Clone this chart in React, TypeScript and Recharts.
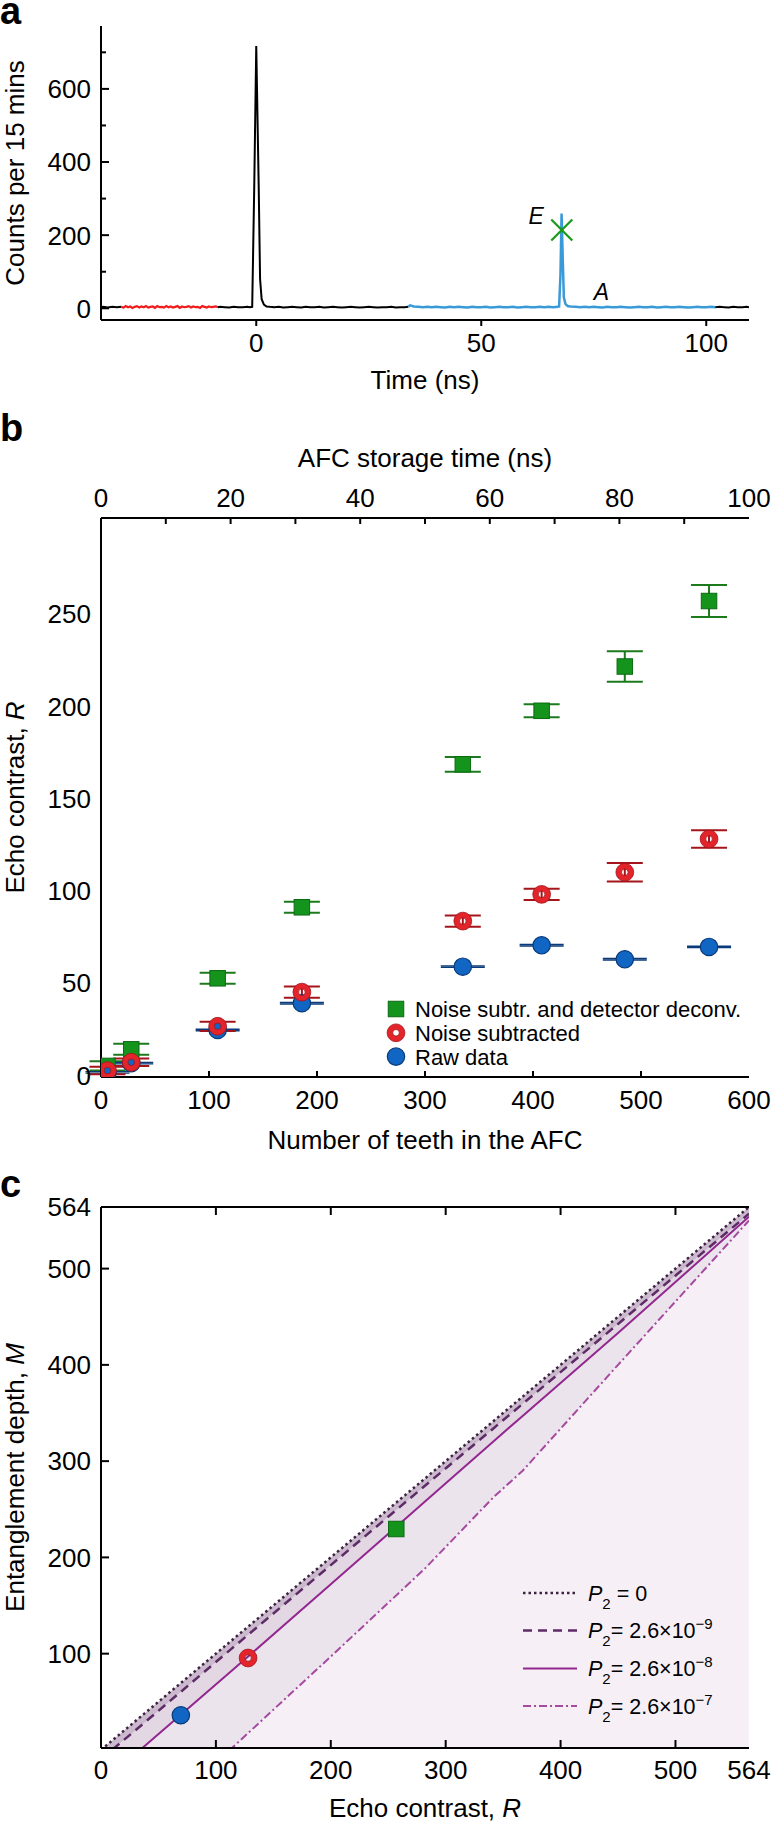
import React from 'react';
import {
  ComposedChart,
  ScatterChart,
  Line,
  Area,
  Scatter,
  ErrorBar,
  XAxis,
  YAxis,
  Label,
  Legend,
  ReferenceDot,
} from 'recharts';

const FONT = '"Liberation Sans", Arial, Helvetica, sans-serif';

// ---------- panel a: detection-time histogram, [time (ns), counts] ----------
const traceStartBlack = [[-34.5, 3], [-34, 4], [-33, 2], [-32, 4], [-31, 3], [-30, 4]];
const traceNoiseRed = [
  [-30, 4], [-29.5, 2], [-29, 6], [-28.5, 3], [-28, 5], [-27.5, 1], [-27, 4], [-26.5, 6],
  [-26, 2], [-25.5, 5], [-25, 3], [-24.5, 6], [-24, 2], [-23.5, 4], [-23, 5], [-22.5, 1],
  [-22, 6], [-21.5, 3], [-21, 4], [-20.5, 2], [-20, 6], [-19.5, 3], [-19, 5], [-18.5, 2],
  [-18, 4], [-17.5, 6], [-17, 1], [-16.5, 5], [-16, 3], [-15.5, 4], [-15, 6], [-14.5, 2],
  [-14, 5], [-13.5, 3], [-13, 4], [-12.5, 1], [-12, 6], [-11.5, 4], [-11, 2], [-10.5, 5],
  [-10, 3], [-9.5, 4], [-9, 5], [-8.5, 3],
];
const tracePumpBlack = [
  [-8.5, 3], [-8, 4], [-7, 3], [-6, 2], [-5, 4], [-4, 3], [-3, 3], [-2, 4], [-1.5, 3],
  [-0.9, 4], [-0.45, 330], [0, 717], [0.55, 330], [0.85, 80], [1.2, 25], [1.7, 10], [2.3, 5],
  [3, 4], [4, 3], [5, 4], [6, 2], [7, 3], [8, 4], [9, 3], [10, 2], [11, 4], [12, 3], [13, 3],
  [14, 4], [15, 2], [16, 3], [17, 4], [18, 3], [19, 2], [20, 3], [21, 4], [22, 3], [23, 2],
  [24, 3], [25, 4], [26, 3], [27, 2], [28, 3], [29, 3], [30, 4], [31, 2], [32, 3], [33, 3],
  [33.8, 4],
];
const traceEchoBlue = [
  [33.8, 4], [34.2, 8], [35, 5], [36, 4], [37, 3], [38, 4], [39, 3], [40, 4], [41, 3], [42, 2],
  [43, 4], [44, 3], [45, 4], [46, 3], [47, 2], [48, 4], [49, 3], [50, 3], [51, 4], [52, 2],
  [53, 3], [54, 4], [55, 3], [56, 3], [57, 4], [58, 2], [59, 3], [60, 4], [61, 3], [62, 3],
  [63, 4], [64, 3], [65, 4], [66, 3], [67, 4], [67.3, 5], [67.6, 90], [67.85, 259],
  [68.1, 140], [68.35, 30], [68.7, 12], [69.2, 6], [69.8, 5], [71, 4], [72, 3], [73, 4],
  [74, 3], [75, 4], [76, 3], [77, 2], [78, 4], [79, 3], [80, 3], [81, 4], [82, 3], [83, 2],
  [84, 3], [85, 4], [86, 3], [87, 3], [88, 4], [89, 2], [90, 3], [91, 4], [92, 3], [93, 3],
  [94, 4], [95, 3], [96, 2], [97, 3], [98, 4], [99, 3], [100, 3], [101, 4], [102, 3],
];
const traceEndBlack = [[102, 3], [103, 4], [104, 3], [105, 2], [106, 4], [107, 3], [108, 3], [109, 4], [109.5, 3]];
const echoMark = [[67.9, 214]];

const toPts = (arr: number[][]) => arr.map(([t, c]) => ({ t, c }));

// ---------- panel b: echo contrast vs number of teeth ----------
const teeth = [6, 28, 108, 186, 335, 408, 485, 563];
const storageTime = [1, 4.7, 18, 31, 55.8, 68, 80.8, 93.8]; // same points read on the top axis (ns)
const deconvR = [5, 14, 52.5, 91, 168.5, 197.5, 221.5, 257];
const deconvErr = [2.5, 3, 3, 3, 4, 3.5, 8.3, 8.7];
const subtractedR = [2.5, 7, 26.5, 45, 83.5, 98, 110, 128];
const subtractedErr = [2, 2, 2.5, 3, 3, 3, 5, 4.8];
const rawR = [1.5, 6.5, 24.5, 39, 58.8, 70.4, 62.8, 69.5];
const rawErr = [0.4, 0.4, 0.4, 0.4, 0.4, 0.4, 0.4, 0.4];
const legendNamesB = ['Noise subtr. and detector deconv.', 'Noise subtracted', 'Raw data'];

// ---------- panel c: entanglement depth bounds ----------
const contrastGrid = [0, 10, 36, 114, 200, 282, 342, 367, 450, 564];
const depthP0 = [0, 10, 36, 114, 200, 282, 342, 367, 450, 564];
const depthP9 = [-9.6, 0.4, 26.5, 105.5, 192, 274.5, 334.5, 359.5, 442.5, 557];
const depthP8 = [-35.5, -25, 2, 82.5, 172, 258, 321, 347, 433, 554];
const depthP7 = [-126, -115, -86, 2, 97, 188.5, 263, 290, 400, 550];
const measuredContrast = [69.5, 128, 257];
const measuredDepth = [36, 95.5, 229.5];
const legendExponents = ['', '−9', '−8', '−7'];

const curveStyles = [
  { key: 'p0', color: '#3d2140', dash: '2.5 3', width: 2.5, band: '#cbb9cd' },
  { key: 'p9', color: '#5e2b66', dash: '9 6', width: 2.5, band: '#e2d7e3' },
  { key: 'p8', color: '#92278f', dash: undefined, width: 2, band: '#ece4ec' },
  { key: 'p7', color: '#a64aa0', dash: '8 3 2 3', width: 2, band: '#f6f0f6' },
];

const GREEN = '#14941c';
const RED = '#e3242b';
const BLUE = '#1166c4';

// ---------- helpers ----------
type Side = 'left' | 'right' | 'top' | 'bottom';
interface TickSpec {
  labels?: number[];
  major?: number[];
  minor?: number[];
  gap?: number;
  len?: number;
  out?: boolean;
}

const frameTick = (side: Side, spec: TickSpec) => (props: any) => {
  const { x, y, payload } = props;
  const v = payload.value;
  const len = spec.major?.includes(v) ? spec.len ?? 8 : spec.minor?.includes(v) ? 5 : 0;
  const gap = spec.gap ?? 10;
  const dir = side === 'left' || side === 'top' ? 1 : -1;
  const ld = spec.out ? -dir : dir;
  const horiz = side === 'left' || side === 'right';
  const showLabel = spec.labels?.includes(v);
  return (
    <g>
      {len > 0 &&
        (horiz ? (
          <line x1={x} y1={y} x2={x + ld * len} y2={y} stroke="#000" strokeWidth={2} />
        ) : (
          <line x1={x} y1={y} x2={x} y2={y + ld * len} stroke="#000" strokeWidth={2} />
        ))}
      {showLabel && (
        <text
          x={horiz ? x - dir * gap : x}
          y={horiz ? y : y - dir * gap}
          dy="0.36em"
          textAnchor={horiz ? (side === 'left' ? 'end' : 'start') : 'middle'}
          fontSize={26}
          fill="#000"
        >
          {v}
        </text>
      )}
    </g>
  );
};

const bottomTitle = (text: React.ReactNode, dist: number) => (p: any) => {
  const vb = p.viewBox;
  return (
    <text x={vb.x + vb.width / 2} y={vb.y + dist} dy="0.36em" textAnchor="middle" fontSize={26} fill="#000">
      {text}
    </text>
  );
};

const topTitle = (text: React.ReactNode, dist: number) => (p: any) => {
  const vb = p.viewBox;
  return (
    <text x={vb.x + vb.width / 2} y={vb.y + vb.height - dist} dy="0.36em" textAnchor="middle" fontSize={26} fill="#000">
      {text}
    </text>
  );
};

const sideTitle = (text: React.ReactNode) => (p: any) => {
  const vb = p.viewBox;
  const cx = 24;
  const cy = vb.y + vb.height / 2;
  return (
    <text x={cx} y={cy} transform={`rotate(-90 ${cx} ${cy})`} textAnchor="middle" fontSize={26} fill="#000">
      {text}
    </text>
  );
};

const axisLine = { stroke: '#000', strokeWidth: 2 };

const GreenSquare = (p: any) => (
  <rect x={p.cx - 7.75} y={p.cy - 7.75} width={15.5} height={15.5} fill={GREEN} stroke="#0b6a12" strokeWidth={1} />
);
const BlueDot = (p: any) => (
  <circle cx={p.cx} cy={p.cy} r={8.7} fill={BLUE} stroke="#0a3a78" strokeWidth={1.2} />
);
const RedRing = (p: any) => (
  <g>
    <circle cx={p.cx} cy={p.cy} r={6.1} fill="none" stroke={RED} strokeWidth={5.6} />
    <circle cx={p.cx} cy={p.cy} r={8.9} fill="none" stroke="#a3141b" strokeWidth={0.8} />
    <circle cx={p.cx} cy={p.cy} r={3.3} fill="none" stroke="#a3141b" strokeWidth={0.8} />
  </g>
);
const Cross = (p: any) => (
  <g stroke="#1a9a1a" strokeWidth={2.2}>
    <line x1={p.cx - 10.5} y1={p.cy - 10.5} x2={p.cx + 10.5} y2={p.cy + 10.5} />
    <line x1={p.cx - 10.5} y1={p.cy + 10.5} x2={p.cx + 10.5} y2={p.cy - 10.5} />
  </g>
);
const Hidden = () => <g />;
const italicMark = (letter: string) => (p: any) => (
  <text x={p.cx} y={p.cy} dy="0.36em" textAnchor="middle" fontSize={23} fontStyle="italic" fill="#000">
    {letter}
  </text>
);

const PanelLetter = ({ text, top }: { text: string; top: number }) => (
  <div style={{ position: 'absolute', left: 0, top, fontSize: 38, lineHeight: '18px', fontWeight: 700 }}>{text}</div>
);

// ---------- panel a ----------
const PanelA = () => (
  <ComposedChart width={773} height={400} margin={{ top: 26, right: 24, bottom: 0, left: 0 }}>
    <XAxis
      dataKey="t"
      type="number"
      domain={[-34.5, 109.5]}
      allowDataOverflow
      ticks={[0, 50, 100]}
      interval={0}
      height={80}
      axisLine={axisLine}
      tickLine={false}
      tickSize={0}
      tickMargin={0}
      tick={frameTick('bottom', { labels: [0, 50, 100], major: [0, 50, 100], gap: 23, len: 6, out: true })}
    >
      <Label content={bottomTitle('Time (ns)', 60)} />
    </XAxis>
    <XAxis
      xAxisId="top"
      dataKey="t"
      orientation="top"
      type="number"
      domain={[-34.5, 109.5]}
      allowDataOverflow
      height={0}
      axisLine={axisLine}
      tickLine={false}
      tick={false}
    />
    <YAxis
      type="number"
      domain={[-32, 772]}
      allowDataOverflow
      ticks={[0, 100, 200, 300, 400, 500, 600, 700]}
      interval={0}
      width={101}
      axisLine={axisLine}
      tickLine={false}
      tickSize={0}
      tickMargin={0}
      tick={frameTick('left', { labels: [0, 200, 400, 600], major: [0, 200, 400, 600], minor: [100, 300, 500, 700] })}
    >
      <Label content={sideTitle('Counts per 15 mins')} />
    </YAxis>
    <YAxis
      yAxisId="right"
      orientation="right"
      type="number"
      domain={[-32, 772]}
      allowDataOverflow
      ticks={[0, 100, 200, 300, 400, 500, 600, 700]}
      interval={0}
      width={0}
      axisLine={axisLine}
      tickLine={false}
      tickSize={0}
      tickMargin={0}
      tick={frameTick('right', { major: [0, 200, 400, 600], minor: [100, 300, 500, 700] })}
    />
    <Line data={toPts(traceStartBlack)} dataKey="c" type="linear" stroke="#000" strokeWidth={2} dot={false} isAnimationActive={false} />
    <Line data={toPts(traceNoiseRed)} dataKey="c" type="linear" stroke="#f21c1c" strokeWidth={2.2} dot={false} isAnimationActive={false} />
    <Line data={toPts(tracePumpBlack)} dataKey="c" type="linear" stroke="#000" strokeWidth={2} dot={false} isAnimationActive={false} />
    <Line data={toPts(traceEchoBlue)} dataKey="c" type="linear" stroke="#3a9ad8" strokeWidth={2.5} dot={false} isAnimationActive={false} />
    <Line data={toPts(traceEndBlack)} dataKey="c" type="linear" stroke="#000" strokeWidth={2} dot={false} isAnimationActive={false} />
    <Scatter
      data={toPts(echoMark)}
      dataKey="c"
      xAxisId="top"
      yAxisId="right"
      shape={Cross}
      isAnimationActive={false}
    />
    <ReferenceDot x={62.2} y={254} r={0} shape={italicMark('E')} />
    <ReferenceDot x={76.7} y={45} r={0} shape={italicMark('A')} />
  </ComposedChart>
);

// ---------- panel b ----------
const mkB = (vals: number[], errs: number[]) => teeth.map((n, i) => ({ n, R: vals[i], e: errs[i] }));
const storagePts = storageTime.map((s, i) => ({ s, R: rawR[i] }));

const legendB = () => (
  <svg width={390} height={75} style={{ overflow: 'visible', fontFamily: FONT }}>
    {legendNamesB.map((name, i) => {
      const y = 14 + i * 23.8;
      const Shape = [GreenSquare, RedRing, BlueDot][i];
      return (
        <g key={name}>
          <Shape cx={18} cy={y} />
          <text x={37} y={y} dy="0.36em" fontSize={22} fill="#000">
            {name}
          </text>
        </g>
      );
    })}
  </svg>
);

const PanelB = () => (
  <ScatterChart width={773} height={760} margin={{ top: 0, right: 24, bottom: 0, left: 0 }}>
    <XAxis
      dataKey="n"
      type="number"
      domain={[0, 600]}
      allowDataOverflow
      ticks={[0, 100, 200, 300, 400, 500, 600]}
      interval={0}
      height={83}
      axisLine={axisLine}
      tickLine={false}
      tickSize={0}
      tickMargin={0}
      tick={frameTick('bottom', { labels: [0, 100, 200, 300, 400, 500, 600], major: [100, 200, 300, 400, 500], gap: 23, len: 6 })}
    >
      <Label content={bottomTitle('Number of teeth in the AFC', 63)} />
    </XAxis>
    <XAxis
      xAxisId="top"
      dataKey="s"
      orientation="top"
      type="number"
      domain={[0, 100]}
      allowDataOverflow
      ticks={[0, 10, 20, 30, 40, 50, 60, 70, 80, 90, 100]}
      interval={0}
      height={118}
      axisLine={axisLine}
      tickLine={false}
      tickSize={0}
      tickMargin={0}
      tick={frameTick('top', { labels: [0, 20, 40, 60, 80, 100], major: [10, 20, 30, 40, 50, 60, 70, 80, 90], gap: 20, len: 6 })}
    >
      <Label content={topTitle('AFC storage time (ns)', 60)} />
    </XAxis>
    <YAxis
      type="number"
      domain={[-1, 302]}
      allowDataOverflow
      ticks={[0, 50, 100, 150, 200, 250]}
      interval={0}
      width={101}
      axisLine={axisLine}
      tickLine={false}
      tickSize={0}
      tickMargin={0}
      tick={frameTick('left', { labels: [0, 50, 100, 150, 200, 250] })}
    >
      <Label
        content={sideTitle(
          <>
            Echo contrast, <tspan fontStyle="italic">R</tspan>
          </>
        )}
      />
    </YAxis>
    <YAxis
      yAxisId="right"
      orientation="right"
      type="number"
      domain={[-1, 302]}
      allowDataOverflow
      width={0}
      axisLine={axisLine}
      tickLine={false}
      tick={false}
    />
    <Scatter data={storagePts} dataKey="R" xAxisId="top" yAxisId="right" shape={Hidden} isAnimationActive={false} />
    <Scatter data={mkB(deconvR, deconvErr)} dataKey="R" shape={GreenSquare} isAnimationActive={false}>
      <ErrorBar dataKey="e" direction="y" width={18} stroke="#1c7a1c" strokeWidth={2} isAnimationActive={false} />
    </Scatter>
    <Scatter data={mkB(rawR, rawErr)} dataKey="R" shape={BlueDot} isAnimationActive={false}>
      <ErrorBar dataKey="e" direction="y" width={22} stroke="#0a3a78" strokeWidth={1.4} isAnimationActive={false} />
    </Scatter>
    <Scatter data={mkB(subtractedR, subtractedErr)} dataKey="R" shape={RedRing} isAnimationActive={false}>
      <ErrorBar dataKey="e" direction="y" width={18} stroke="#a3141b" strokeWidth={2} isAnimationActive={false} />
    </Scatter>
    <Legend
      layout="horizontal"
      verticalAlign="middle"
      align="center"
      content={legendB}
      wrapperStyle={{ left: 378, top: 595, width: 390, height: 75 }}
    />
  </ScatterChart>
);

// ---------- panel c ----------
const boundsData = contrastGrid.map((r, i) => ({
  r,
  p0: depthP0[i],
  p9: depthP9[i],
  p8: depthP8[i],
  p7: depthP7[i],
}));
const measuredPts = measuredContrast.map((r, i) => ({ r, m: measuredDepth[i] }));

const legendC = () => (
  <svg width={240} height={160} style={{ overflow: 'visible', fontFamily: FONT }}>
    {curveStyles.map((s, i) => {
      const y = [23, 60.5, 98.5, 136][i];
      const exp = legendExponents[i];
      return (
        <g key={s.key}>
          <line x1={8} x2={62} y1={y} y2={y} stroke={s.color} strokeWidth={s.width} strokeDasharray={s.dash} />
          <text x={73} y={y} dy="0.36em" fontSize={21.5} fill="#000">
            <tspan fontStyle="italic">P</tspan>
            <tspan dy={8} fontSize={15}>2</tspan>
            <tspan dy={-8}>{exp ? '= 2.6×10' : ' = 0'}</tspan>
            {exp && (
              <tspan dy={-9} fontSize={15}>
                {exp}
              </tspan>
            )}
          </text>
        </g>
      );
    })}
  </svg>
);

const PanelC = () => (
  <ComposedChart width={773} height={663} data={boundsData} margin={{ top: 0, right: 24, bottom: 0, left: 0 }}>
    <XAxis
      dataKey="r"
      type="number"
      domain={[0, 564]}
      allowDataOverflow
      ticks={[0, 100, 200, 300, 400, 500, 564]}
      interval={0}
      height={75}
      axisLine={axisLine}
      tickLine={false}
      tickSize={0}
      tickMargin={0}
      tick={frameTick('bottom', { labels: [0, 100, 200, 300, 400, 500, 564], major: [100, 200, 300, 400, 500], gap: 22 })}
    >
      <Label
        content={bottomTitle(
          <>
            Echo contrast, <tspan fontStyle="italic">R</tspan>
          </>,
          60
        )}
      />
    </XAxis>
    <XAxis
      xAxisId="top"
      dataKey="r"
      orientation="top"
      type="number"
      domain={[0, 564]}
      allowDataOverflow
      ticks={[100, 200, 300, 400, 500]}
      interval={0}
      height={47}
      axisLine={axisLine}
      tickLine={false}
      tickSize={0}
      tickMargin={0}
      tick={frameTick('top', { major: [100, 200, 300, 400, 500] })}
    />
    <YAxis
      type="number"
      domain={[2, 564]}
      allowDataOverflow
      ticks={[100, 200, 300, 400, 500, 564]}
      interval={0}
      width={101}
      axisLine={axisLine}
      tickLine={false}
      tickSize={0}
      tickMargin={0}
      tick={frameTick('left', { labels: [100, 200, 300, 400, 500, 564], major: [100, 200, 300, 400, 500] })}
    >
      <Label
        content={sideTitle(
          <>
            Entanglement depth, <tspan fontStyle="italic">M</tspan>
          </>
        )}
      />
    </YAxis>
    <YAxis
      yAxisId="right"
      orientation="right"
      type="number"
      domain={[2, 564]}
      allowDataOverflow
      ticks={[100, 200, 300, 400, 500]}
      interval={0}
      width={0}
      axisLine={axisLine}
      tickLine={false}
      tickSize={0}
      tickMargin={0}
      tick={frameTick('right', { major: [100, 200, 300, 400, 500] })}
    />
    {curveStyles.map((s) => (
      <Area key={`a-${s.key}`} dataKey={s.key} type="linear" fill={s.band} fillOpacity={1} stroke="none" isAnimationActive={false} />
    ))}
    {curveStyles.map((s) => (
      <Line
        key={`l-${s.key}`}
        dataKey={s.key}
        type="linear"
        stroke={s.color}
        strokeWidth={s.width}
        strokeDasharray={s.dash}
        dot={false}
        isAnimationActive={false}
      />
    ))}
    <Scatter data={[measuredPts[0]]} dataKey="m" shape={BlueDot} isAnimationActive={false} />
    <Scatter data={[measuredPts[1]]} dataKey="m" shape={RedRing} isAnimationActive={false} />
    <Scatter
      data={[measuredPts[2]]}
      dataKey="m"
      xAxisId="top"
      yAxisId="right"
      shape={GreenSquare}
      isAnimationActive={false}
    />
    <Legend
      layout="horizontal"
      verticalAlign="middle"
      align="center"
      content={legendC}
      wrapperStyle={{ left: 515, top: 410, width: 240, height: 160 }}
    />
  </ComposedChart>
);

export default function App() {
  return (
    <div
      style={{
        position: 'absolute',
        left: 0,
        top: 0,
        width: 773,
        height: 1823,
        background: '#fff',
        fontFamily: FONT,
        color: '#000',
        overflow: 'hidden',
      }}
    >
      <div style={{ position: 'absolute', left: 0, top: 0 }}>
        <PanelA />
      </div>
      <div style={{ position: 'absolute', left: 0, top: 400 }}>
        <PanelB />
      </div>
      <div style={{ position: 'absolute', left: 0, top: 1160 }}>
        <PanelC />
      </div>
      <PanelLetter text="a" top={2} />
      <PanelLetter text="b" top={419} />
      <PanelLetter text="c" top={1175} />
    </div>
  );
}
